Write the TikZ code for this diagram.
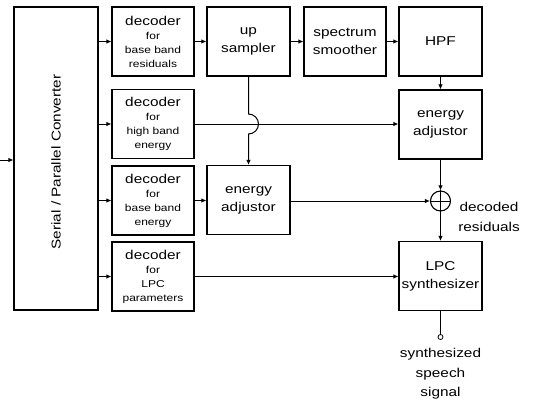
\documentclass[tikz,border=0pt]{standalone}
\usepackage{fontspec}
\setmainfont[FakeStretch=1.2]{Liberation Sans}
\usetikzlibrary{arrows.meta}
\newcommand{\subtxt}[1]{{\fontsize{10}{14}\selectfont #1}}

\begin{document}
\begin{tikzpicture}[
  x=1pt, y=-1pt,
  box/.style={draw, line width=1.1pt, minimum width=83pt, minimum height=69pt,
              align=center, inner sep=1pt, font=\fontsize{12.8}{18}\selectfont},
  dec/.style={box, minimum width=82pt, font=\fontsize{12.8}{14}\selectfont},
  lbl/.style={align=center, font=\fontsize{12.8}{19.5}\selectfont},
  >={Latex[length=5pt,width=4.5pt]}, line width=1pt
]
  \useasboundingbox (0,0) rectangle (533,400);
  % Converter
  \node[box, minimum width=84pt, minimum height=303pt] (spc) at (56,158.5) {};
  \node[lbl, rotate=90] (spclbl) at (56,162) {Serial / Parallel Converter};
  \coordinate (in) at (0,160);
  % Decoder nodes
  \node[dec] (dres) at (153,41.5)  {decoder\\\subtxt{for}\\\subtxt{base band}\\\subtxt{residuals}};
  \node[dec] (dhb)  at (153,124)   {decoder\\\subtxt{for}\\\subtxt{high band}\\\subtxt{energy}};
  \node[dec] (dbb)  at (153,200.5) {decoder\\\subtxt{for}\\\subtxt{base band}\\\subtxt{energy}};
  \node[dec] (dlpc) at (153,276.5) {decoder\\\subtxt{for}\\\subtxt{LPC}\\\subtxt{parameters}};
  % Processing nodes
  \node[box] (up)  at (248.5,41.5) {up\\sampler};
  \node[box, minimum width=82pt] (ss) at (345,41.5) {spectrum\\smoother};
  \node[box] (hpf) at (440.5,41.5) {HPF};
  \node[box] (ea1) at (440.5,124.5) {energy\\adjustor};
  \node[box] (ea2) at (248.5,200) {energy\\adjustor};
  \node[draw, circle, line width=1.1pt, minimum size=20pt, inner sep=0pt] (add) at (440.5,201) {};
  \node[box] (lpc) at (440.5,276) {LPC\\synthesizer};
  \node[draw, circle, line width=0.8pt, minimum size=5pt, inner sep=0pt] (outc) at (440.5,337) {};
  % Labels
  \node[lbl] (reslbl) at (489,217) {decoded\\residuals};
  \node[lbl] (outlbl) at (440.5,374) {synthesized\\speech\\signal};
  % Connections
  \draw[->] (in) -- (spc.west |- in);
  \draw[->] (spc.east |- dres) -- (dres);
  \draw[->] (spc.east |- dhb)  -- (dhb);
  \draw[->] (spc.east |- dbb)  -- (dbb);
  \draw[->] (spc.east |- dlpc) -- (dlpc);
  \draw[->] (dres) -- (up);
  \draw[->] (up)   -- (ss);
  \draw[->] (ss)   -- (hpf);
  \draw[->] (hpf)  -- (ea1);
  \draw[->] (dhb.east) -- (dhb.east -| ea1.west);
  \draw[->] (up.south) -- ([yshift=10pt]up.south |- dhb)
            arc[start angle=90, end angle=-90, radius=10pt] -- (ea2.north);
  \draw[->] (dbb.east) -- (dbb.east -| ea2.west);
  \draw[->] (ea2.east |- add) -- (add.west);
  \draw[->] (ea1) -- (add);
  \draw[->] (add) -- (lpc);
  \draw[->] (dlpc.east) -- (dlpc.east -| lpc.west);
  \draw (add.north) -- (add.south);
  \draw (add.west)  -- (add.east);
  \draw (lpc) -- (outc);
\end{tikzpicture}
\end{document}
